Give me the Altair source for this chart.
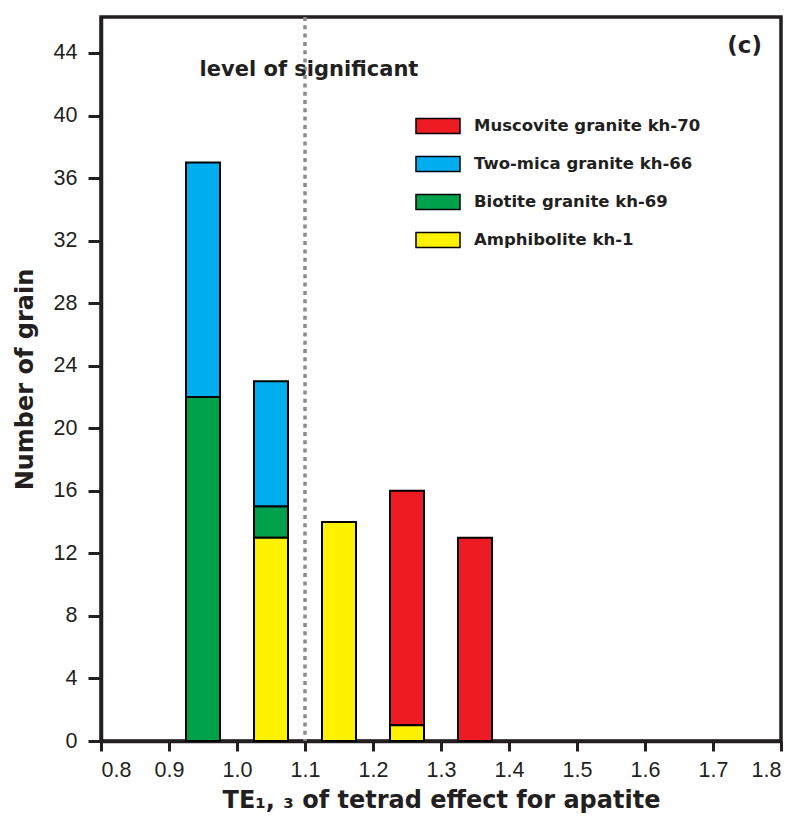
import altair as alt
import pandas as pd

# ---- data ----
centers = [0.95, 1.05, 1.15, 1.25, 1.35]
series_names = ["Muscovite granite kh-70", "Two-mica granite kh-66",
                "Biotite granite kh-69", "Amphibolite kh-1"]
series_colors = ["#ED1C24", "#00AEEF", "#00A14B", "#FFF200"]
muscovite = [0, 0, 0, 15, 13]
two_mica = [15, 8, 0, 0, 0]
biotite = [22, 2, 0, 0, 0]
amphibolite = [0, 13, 14, 1, 0]
stack_order = {"Amphibolite kh-1": 0, "Biotite granite kh-69": 1,
               "Two-mica granite kh-66": 2, "Muscovite granite kh-70": 3}
bin_width = 0.05
x_ticks = [0.8, 0.9, 1.0, 1.1, 1.2, 1.3, 1.4, 1.5, 1.6, 1.7, 1.8]
y_ticks = [0, 4, 8, 12, 16, 20, 24, 28, 32, 36, 40, 44]
threshold = [1.1]

rows = []
for name, vals in zip(series_names, [muscovite, two_mica, biotite, amphibolite]):
    for c, v in zip(centers, vals):
        if v > 0:
            rows.append({"center": c, "series": name, "count": v,
                         "order": stack_order[name]})
df = pd.DataFrame(rows)

FONT = "Liberation Sans"
BFONT = "DejaVu Sans"
INK = "#231f20"

xscale = alt.Scale(domain=[0.8, 1.8], nice=False, zero=False)
yscale = alt.Scale(domain=[0, 46.3], nice=False)

bars = alt.Chart(df).transform_stack(
    stack="count", as_=["y0", "y1"], groupby=["center"],
    sort=[alt.SortField("order", order="ascending")]
).transform_calculate(
    xa=f"datum.center - {bin_width/2}", xb=f"datum.center + {bin_width/2}"
).mark_bar(stroke="black", strokeWidth=2).encode(
    x=alt.X("xa:Q", scale=xscale,
            axis=alt.Axis(values=x_ticks, format=".1f",
                          title="TE₁, ₃ of tetrad effect for apatite")),
    x2="xb:Q",
    y=alt.Y("y0:Q", scale=yscale,
            axis=alt.Axis(values=y_ticks, title="Number of grain")),
    y2="y1:Q",
    color=alt.Color("series:N",
                    scale=alt.Scale(domain=series_names, range=series_colors),
                    legend=alt.Legend(
                        title=None, orient="none", legendX=326, legendY=98,
                        padding=0, rowPadding=16,
                        symbolType="M-2.2,-0.75L2.2,-0.75L2.2,0.75L-2.2,0.75Z",
                        symbolSize=400, symbolStrokeColor="black",
                        symbolStrokeWidth=1.5, symbolOpacity=1,
                        labelFont=BFONT, labelFontSize=16.5, labelFontWeight="bold",
                        labelColor=INK, labelOffset=25, labelLimit=400)),
)

rule = alt.Chart(pd.DataFrame({"x": threshold})).mark_rule(
    color="#8a8a8a", strokeWidth=3.5, strokeDash=[4, 4.3]
).encode(x=alt.X("x:Q", scale=xscale))

ann = pd.DataFrame({"x": [0.945, 1.772], "y": [42.5, 44.0],
                    "t": ["level of significant", "(c)"]})
txt1 = alt.Chart(ann.iloc[[0]]).mark_text(
    font=BFONT, fontSize=21, fontWeight="bold", align="left",
    baseline="alphabetic", color=INK
).encode(x=alt.X("x:Q", scale=xscale), y=alt.Y("y:Q", scale=yscale), text="t:N")
txt2 = alt.Chart(ann.iloc[[1]]).mark_text(
    font=BFONT, fontSize=23, fontWeight="bold", align="right",
    baseline="alphabetic", color=INK
).encode(x=alt.X("x:Q", scale=xscale), y=alt.Y("y:Q", scale=yscale), text="t:N")

chart = alt.layer(rule, bars, txt1, txt2).properties(
    width=680, height=724,
    autosize=alt.AutoSizeParams(type="none"),
    padding={"left": 93, "top": 9, "right": 20, "bottom": 85},
).configure_view(
    stroke=INK, strokeWidth=3.5
).configure_axis(
    domainColor=INK, domainWidth=3.5, tickColor=INK, tickWidth=3,
    labelFont=FONT, labelFontSize=21.5, labelColor=INK,
    titleFont=BFONT, titleFontSize=24, titleFontWeight="bold", titleColor=INK,
    grid=False,
).configure_axisY(
    tickSize=13, labelPadding=11, titlePadding=16,
).configure_axisX(
    tickSize=10, labelPadding=8, titlePadding=8,
)

chart.save("out.html", embed_options={"renderer": "svg", "actions": False})
